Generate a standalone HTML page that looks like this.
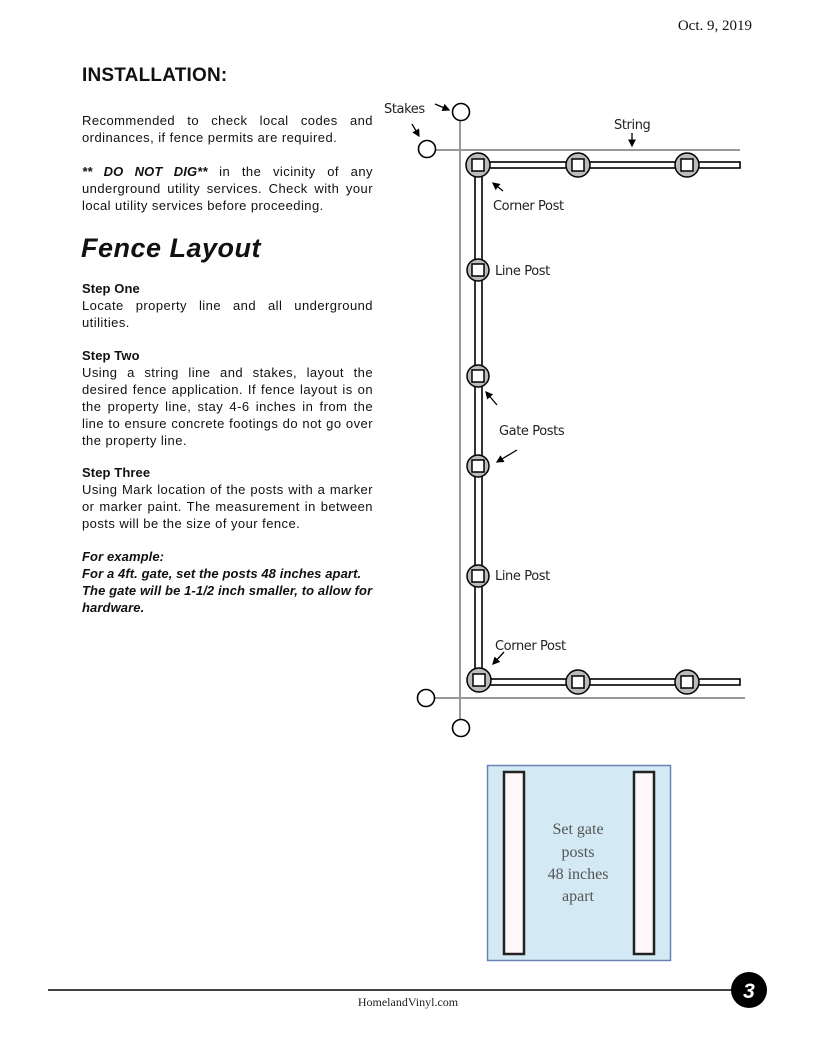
<!DOCTYPE html>
<html><head><meta charset="utf-8"><style>
body{margin:0;background:#fff;}
#pg{position:relative;width:816px;height:1056px;overflow:hidden;font-family:"Liberation Sans",sans-serif;color:#111;}
.t{position:absolute;left:82px;width:291px;font-size:13px;line-height:17px;text-align:justify;letter-spacing:0.45px;}
.t b{font-weight:bold;letter-spacing:0.1px;}
</style></head><body><div id="pg">
<div style="position:absolute;right:64px;top:18px;font-family:'Liberation Serif',serif;font-size:15px;">Oct. 9, 2019</div>
<div style="position:absolute;left:82px;top:65px;font-size:19px;font-weight:bold;letter-spacing:0.2px;">INSTALLATION:</div>
<div class="t" style="top:112px;">Recommended to check local codes and ordinances, if fence permits are required.</div>
<div class="t" style="top:163px;"><b><i>** DO NOT DIG**</i></b> in the vicinity of any underground utility services. Check with your local utility services before proceeding.</div>
<div style="position:absolute;left:81px;top:233px;font-size:27px;font-weight:bold;font-style:italic;letter-spacing:0.5px;">Fence Layout</div>
<div class="t" style="top:280px;"><b>Step One</b><br>Locate property line and all underground utilities.</div>
<div class="t" style="top:347px;"><b>Step Two</b><br>Using a string line and stakes, layout the desired fence application. If fence layout is on the property line, stay 4-6 inches in from the line to ensure concrete footings do not go over the property line.</div>
<div class="t" style="top:464px;"><b>Step Three</b><br>Using Mark location of the posts with a marker or marker paint. The measurement in between posts will be the size of your fence.</div>
<div class="t" style="top:548px;font-style:italic;text-align:left;letter-spacing:0.1px;"><b>For example:<br>For a 4ft. gate, set the posts 48 inches apart. The gate will be 1-1/2 inch smaller, to allow for hardware.</b></div>

<svg style="position:absolute;left:0;top:0" width="816" height="1056">
<defs><marker id="a" markerWidth="6" markerHeight="6" refX="5" refY="3" orient="auto"><path d="M0,0 L6,3 L0,6z" fill="#000"/></marker></defs>
<g stroke="#999" stroke-width="2" fill="none">
<line x1="460" y1="120" x2="460" y2="720"/>
<line x1="436" y1="150" x2="740" y2="150"/>
<line x1="435" y1="698" x2="745" y2="698"/>
</g>
<g stroke="#000" stroke-width="1.6" fill="#fff">
<circle cx="461" cy="112" r="8.5"/><circle cx="427" cy="149" r="8.5"/>
<circle cx="426" cy="698" r="8.5"/><circle cx="461" cy="728" r="8.5"/>
<rect x="475" y="165" width="7" height="517"/>
<rect x="478" y="162" width="262" height="6"/>
<rect x="478" y="679" width="262" height="6"/>
</g>
<g stroke="#000" stroke-width="1.5">
<g fill="#bbb">
<circle cx="478" cy="165" r="12"/><circle cx="578" cy="165" r="12"/><circle cx="687" cy="165" r="12"/>
<circle cx="478" cy="270" r="11"/><circle cx="478" cy="376" r="11"/><circle cx="478" cy="466" r="11"/><circle cx="478" cy="576" r="11"/>
<circle cx="479" cy="680" r="12"/><circle cx="578" cy="682" r="12"/><circle cx="687" cy="682" r="12"/>
</g>
<g fill="#fff">
<rect x="472" y="159" width="12" height="12"/><rect x="572" y="159" width="12" height="12"/><rect x="681" y="159" width="12" height="12"/>
<rect x="472" y="264" width="12" height="12"/><rect x="472" y="370" width="12" height="12"/><rect x="472" y="460" width="12" height="12"/><rect x="472" y="570" width="12" height="12"/>
<rect x="473" y="674" width="12" height="12"/><rect x="572" y="676" width="12" height="12"/><rect x="681" y="676" width="12" height="12"/>
</g>
</g>
<g stroke="#000" stroke-width="1.3" marker-end="url(#a)">
<line x1="435" y1="104" x2="449" y2="110"/>
<line x1="412" y1="124" x2="419" y2="136"/>
<line x1="632" y1="133" x2="632" y2="146"/>
<line x1="503" y1="191" x2="493" y2="183"/>
<line x1="497" y1="405" x2="486" y2="392"/>
<line x1="517" y1="450" x2="497" y2="462"/>
<line x1="504" y1="652" x2="493" y2="664"/>
</g>
<g font-family="'DejaVu Sans',sans-serif" font-size="13" fill="#222" letter-spacing="-0.4">
<text x="384" y="113">Stakes</text>
<text x="614" y="129">String</text>
<text x="493" y="210">Corner Post</text>
<text x="495" y="275">Line Post</text>
<text x="499" y="435">Gate Posts</text>
<text x="495" y="580">Line Post</text>
<text x="495" y="650">Corner Post</text>
</g>
<rect x="487.5" y="765.5" width="183" height="195" fill="#d3e9f3" stroke="#6a82b8" stroke-width="1.5"/>
<rect x="504" y="772" width="20" height="182" fill="#fff8fa" stroke="#222" stroke-width="2.5"/>
<rect x="634" y="772" width="20" height="182" fill="#fff8fa" stroke="#222" stroke-width="2.5"/>
<g font-family="'Liberation Serif',serif" font-size="16" fill="#555" text-anchor="middle">
<text x="578" y="834">Set gate</text><text x="578" y="857">posts</text><text x="578" y="879">48 inches</text><text x="578" y="901">apart</text>
</g>
<line x1="48" y1="990" x2="740" y2="990" stroke="#000" stroke-width="1.5"/>
<circle cx="749" cy="990" r="18" fill="#000"/>
<text x="749" y="998" text-anchor="middle" font-family="'Liberation Sans',sans-serif" font-weight="bold" font-style="italic" font-size="21" fill="#fff">3</text>
<text x="408" y="1006" text-anchor="middle" font-family="'Liberation Serif',serif" font-size="12" fill="#222">HomelandVinyl.com</text>
</svg>
</div></body></html>
